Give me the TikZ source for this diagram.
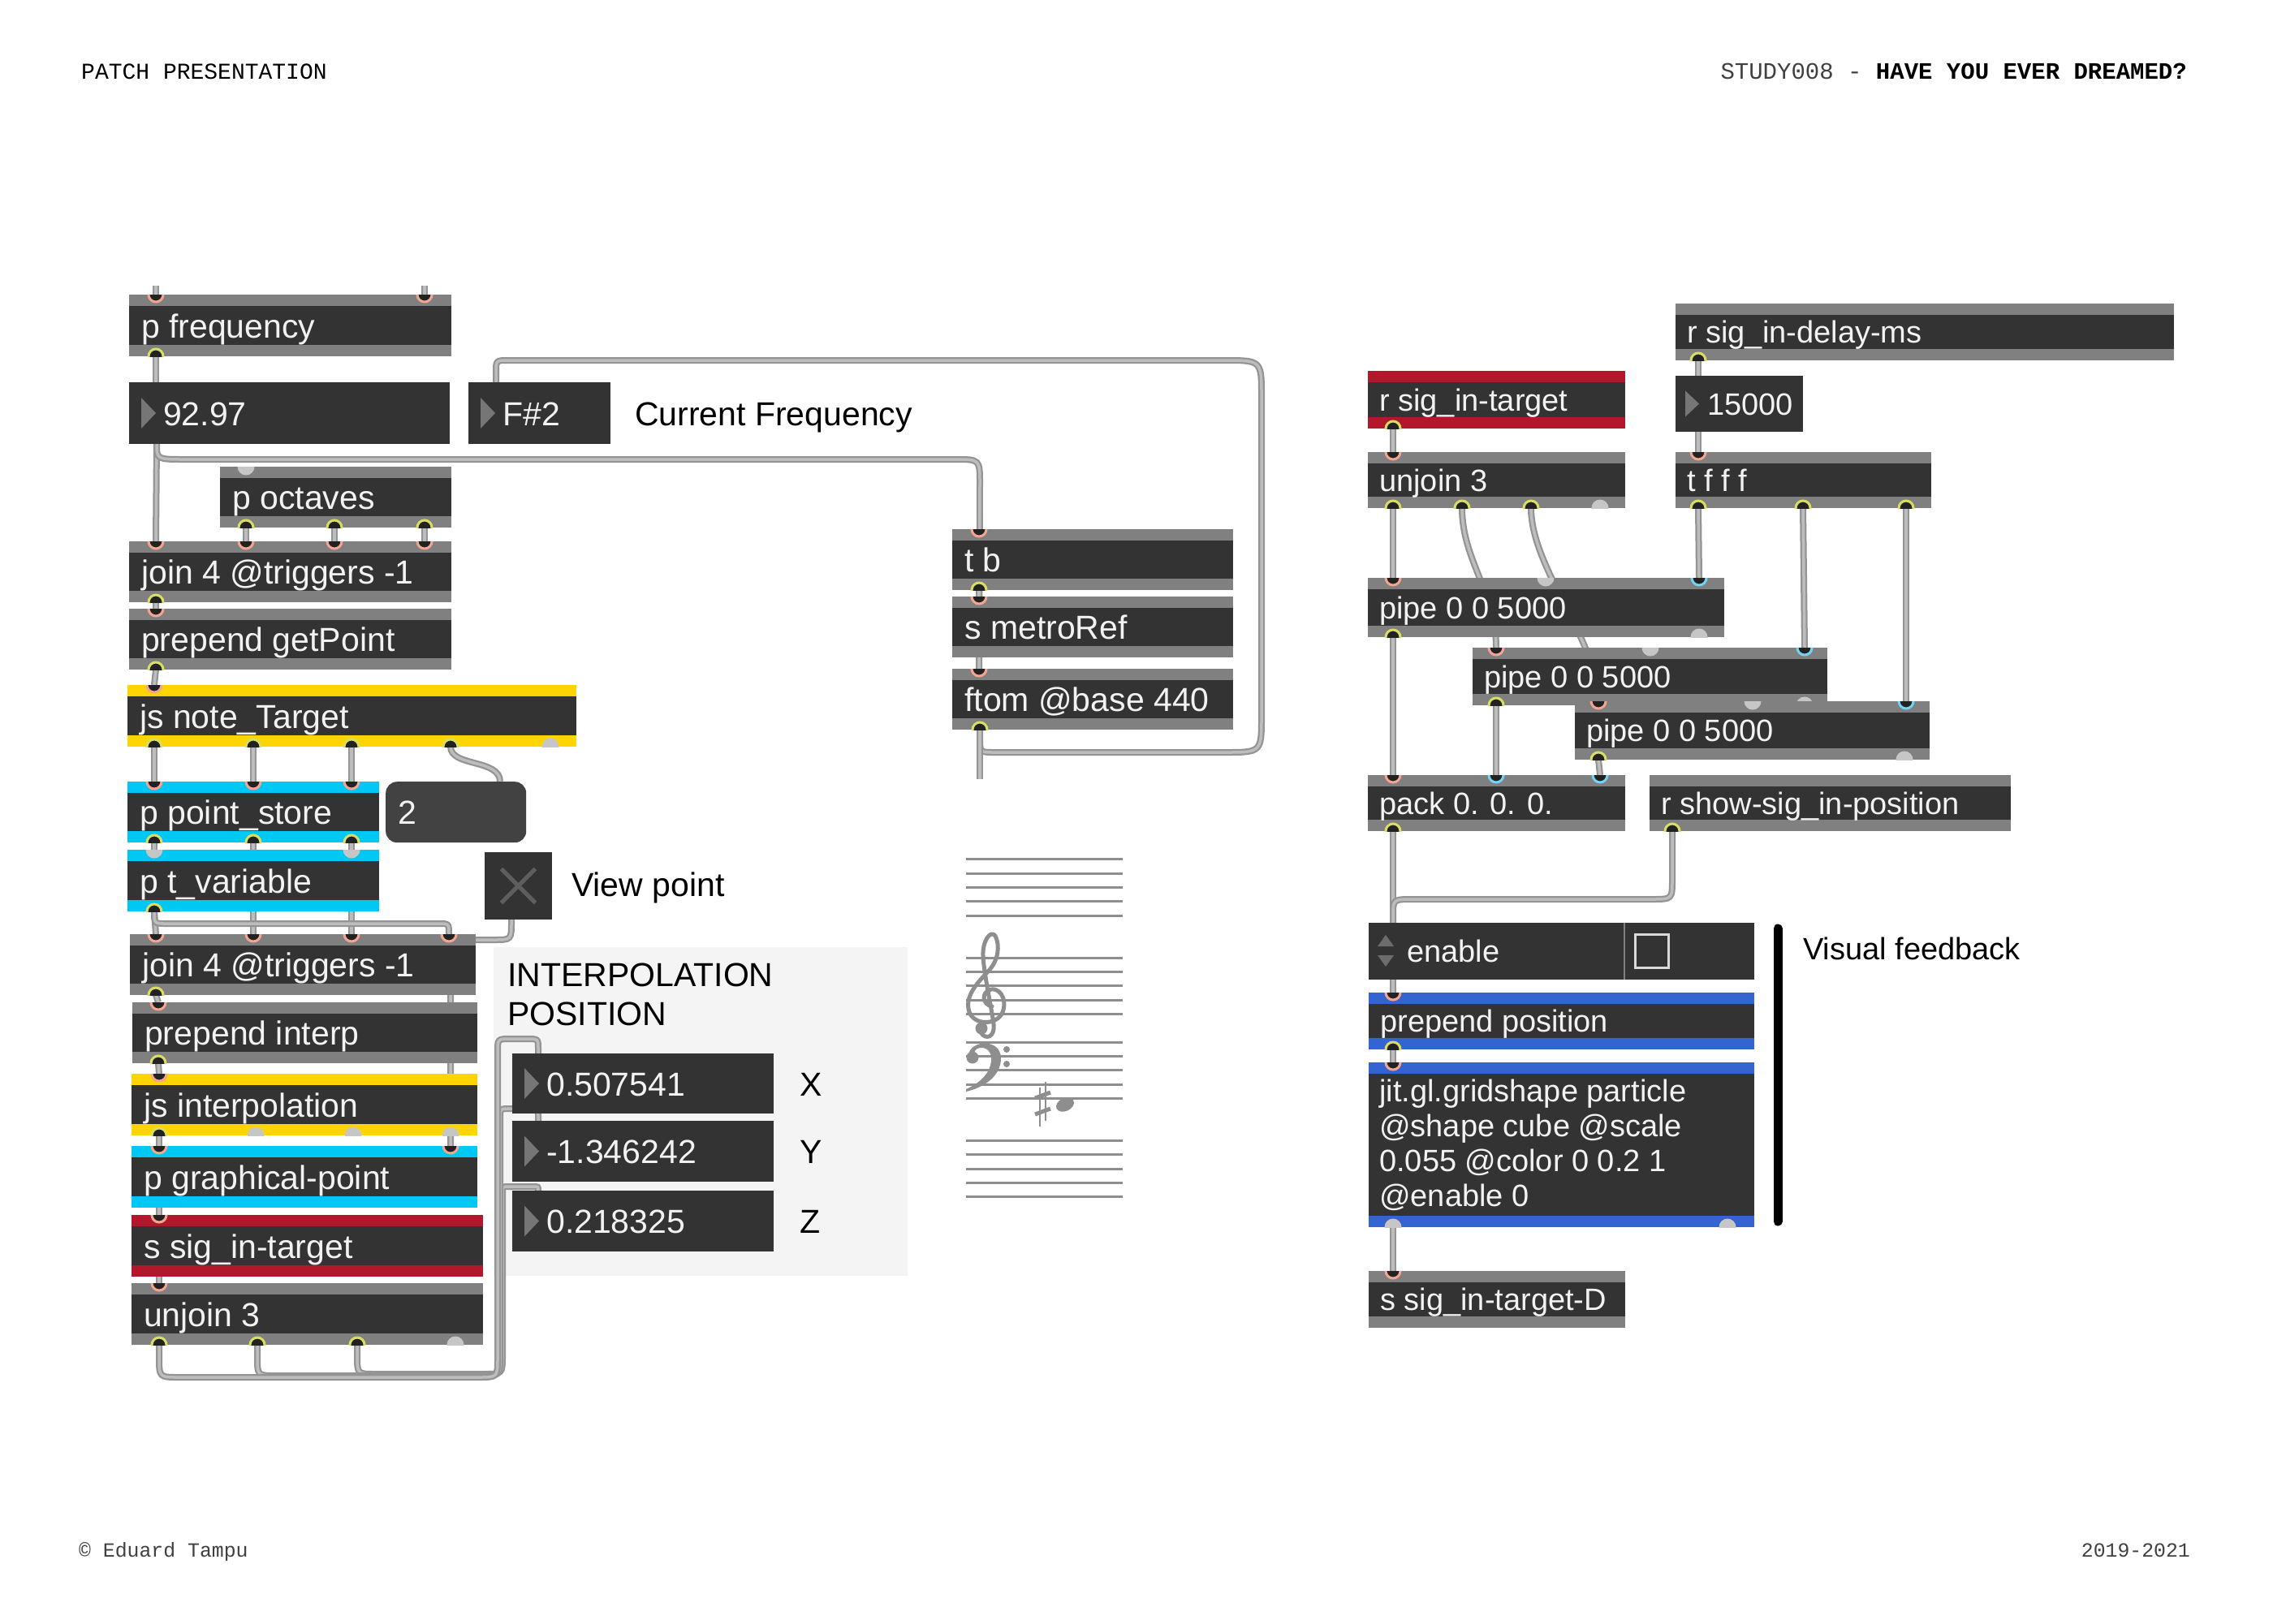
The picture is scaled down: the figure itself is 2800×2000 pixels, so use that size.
\documentclass[tikz,border=0pt]{standalone}
\usepackage{fontspec}
\setmainfont{Liberation Sans}
\newfontfamily\monofont{Liberation Mono}
\usetikzlibrary{calc}
\definecolor{objbody}{HTML}{333333}
\definecolor{barg}{HTML}{808080}
\definecolor{jsyel}{HTML}{FFD400}
\definecolor{cyanb}{HTML}{00C8F5}
\definecolor{redb}{HTML}{B2172B}
\definecolor{blueb}{HTML}{3464D0}
\definecolor{objtext}{HTML}{F2F2F2}
\definecolor{tri}{HTML}{767676}
\definecolor{portfill}{HTML}{222222}
\definecolor{portgrey}{HTML}{C6C6C6}
\definecolor{salmon}{HTML}{F3A591}
\definecolor{yelg}{HTML}{D9DE63}
\definecolor{cyanr}{HTML}{74D2F2}
\definecolor{cabo}{HTML}{949494}
\definecolor{cabi}{HTML}{BDBDBD}
\definecolor{panelc}{HTML}{F4F4F4}
\definecolor{staffc}{HTML}{8E8E8E}
\definecolor{msgbox}{HTML}{424242}
\definecolor{xcol}{HTML}{5E5E5E}
\definecolor{arrc}{HTML}{6C6C6C}

\pgfdeclarelayer{back}
\pgfdeclarelayer{wires}
\pgfsetlayers{back,wires,main}

\tikzset{
  objbox/.style={fill=objbody, inner sep=0pt, outer sep=0pt, draw=none},
  barcol/.style={path picture={
      \fill[#1] (path picture bounding box.north west) rectangle ([yshift=-14pt]path picture bounding box.north east);
      \fill[#1] (path picture bounding box.south west) rectangle ([yshift=14pt]path picture bounding box.south east);}},
  bigtxt/.style={text=objtext, inner sep=0pt, font=\fontsize{41}{48}\selectfont},
  smalltxt/.style={text=objtext, inner sep=0pt, font=\fontsize{38}{44}\selectfont},
  labeltxt/.style={text=black, inner sep=0pt, anchor=base west, font=\fontsize{41}{48}\selectfont},
  slabeltxt/.style={text=black, inner sep=0pt, anchor=base west, font=\fontsize{38}{44}\selectfont},
  cable/.style={draw=cabo, line width=8pt, postaction={draw=cabi, line width=3.5pt}},
  stafflines/.style={draw=staffc, line width=3pt},
}

% object box, left-size text
\newcommand\mobj[7]{%
  \node[objbox, barcol=#6, anchor=north west, minimum width=#4pt-#2pt, minimum height=#5pt-#3pt] (#1) at (#2,#3) {};
  \node[bigtxt, anchor=base west] (#1-t) at ($(#1.west)+(15,15)$) {#7};}
% object box, right-size text
\newcommand\robj[7]{%
  \node[objbox, barcol=#6, anchor=north west, minimum width=#4pt-#2pt, minimum height=#5pt-#3pt] (#1) at (#2,#3) {};
  \node[smalltxt, anchor=base west] (#1-t) at ($(#1.west)+(14,13.5)$) {#7};}
% number box
\newcommand\nbox[6]{%
  \node[objbox, anchor=north west, minimum width=#4pt-#2pt, minimum height=#5pt-#3pt] (#1) at (#2,#3) {};
  \fill[tri] ($(#1.west)+(15,-19)$) -- ($(#1.west)+(15,19)$) -- ($(#1.west)+(33,0)$) -- cycle;
  \node[bigtxt, anchor=base west] (#1-t) at ($(#1.west)+(42,15)$) {#6};}
% ports
\newcommand\pin[4][salmon]{%
  \coordinate (#2) at (#3,#4);
  \begin{scope}\clip (#3-12,#4) rectangle (#3+12,#4+12);
  \fill[portfill] (#2) circle (9pt); \draw[#1, line width=3pt] (#2) circle (9pt);\end{scope}}
\newcommand\pout[4][yelg]{%
  \coordinate (#2) at (#3,#4);
  \begin{scope}\clip (#3-12,#4-12) rectangle (#3+12,#4);
  \fill[portfill] (#2) circle (9pt); \draw[#1, line width=3pt] (#2) circle (9pt);\end{scope}}
\newcommand\gin[3]{%
  \coordinate (#1) at (#2,#3);
  \begin{scope}\clip (#2-12,#3) rectangle (#2+12,#3+12);
  \fill[portgrey] (#1) circle (10.5pt);\end{scope}}
\newcommand\gout[3]{%
  \coordinate (#1) at (#2,#3);
  \begin{scope}\clip (#2-12,#3-12) rectangle (#2+12,#3);
  \fill[portgrey] (#1) circle (10.5pt);\end{scope}}

\begin{document}
\begin{tikzpicture}[x=1pt,y=-1pt]
\useasboundingbox (0,0) rectangle (2800,2000);
\begin{pgfonlayer}{back}
\fill[white] (0,0) rectangle (2800,2000);
\fill[panelc] (608,1167) rectangle (1118,1572);
\end{pgfonlayer}

% ---------- header / footer ----------
\node[anchor=base west, inner sep=0pt, font=\monofont\fontsize{28}{32}\selectfont] (hdrL) at (100,97) {PATCH PRESENTATION};
\node[anchor=base east, inner sep=0pt, font=\monofont\fontsize{29}{32}\selectfont] (hdrR) at (2694,97) {\textcolor{black!75}{STUDY008 -} \textbf{HAVE YOU EVER DREAMED?}};
\node[anchor=base west, inner sep=0pt, text=black!75, font=\monofont\fontsize{24.8}{30}\selectfont] (ftrL) at (97,1918) {© Eduard Tampu};
\node[anchor=base east, inner sep=0pt, text=black!75, font=\monofont\fontsize{24.8}{30}\selectfont] (ftrR) at (2698,1918) {2019-2021};

% ---------- interpolation panel ----------
\node[labeltxt] (ipl1) at (625,1215) {INTERPOLATION};
\node[labeltxt] (ipl2) at (625,1263) {POSITION};

% ---------- left column ----------
\mobj{pfreq}{159}{363}{556}{439}{barg}{p frequency}
\pin{pf-i1}{192}{363}\pin{pf-i2}{523}{363}\pout{pf-o1}{192}{439}
\coordinate (stub1) at (192,352); \coordinate (stub2) at (523,352);

\nbox{nfreq}{159}{471}{554}{547}{92.97}
\coordinate (nf-i) at (192,471); \coordinate (nf-o) at (193,547);
\nbox{nnote}{577}{471}{752}{547}{F\#2}
\coordinate (nn-i) at (611,471);
\node[labeltxt] (curfreq) at (782,524) {Current Frequency};

\mobj{poct}{271}{575}{556}{650}{barg}{p octaves}
\gin{po-i}{303}{575}\pout{po-o1}{303}{650}\pout{po-o2}{412}{650}\pout{po-o3}{523}{650}

\mobj{join1}{159}{667}{556}{742}{barg}{join 4 @triggers -1}
\pin{j1-i1}{192}{667}\pin{j1-i2}{303}{667}\pin{j1-i3}{412}{667}\pin{j1-i4}{523}{667}\pout{j1-o}{192}{742}

\mobj{pget}{159}{750}{556}{825}{barg}{prepend getPoint}
\pin{pg-i}{192}{750}\pout{pg-o}{192}{825}

\mobj{jsnote}{157}{844}{710}{920}{jsyel}{js note\_Target}
\pin{jn-i}{190}{844}\pout{jn-o1}{190}{920}\pout{jn-o2}{312}{920}\pout{jn-o3}{433}{920}\pout{jn-o4}{555}{920}\gout{jn-o5}{678}{920}

\mobj{pstore}{157}{963}{467}{1038}{cyanb}{p point\_store}
\pin{ps-i1}{190}{963}\pin{ps-i2}{312}{963}\pin{ps-i3}{433}{963}
\pout{ps-o1}{190}{1038}\pout{ps-o2}{312}{1038}\pout{ps-o3}{433}{1038}

\node[fill=msgbox, rounded corners=14pt, inner sep=0pt, minimum width=173pt, minimum height=75pt, anchor=north west] (msg2) at (475,963) {};
\node[bigtxt, anchor=base west] (msg2-t) at (490,1015) {2};
\coordinate (m2-i) at (616,963);

\mobj{ptvar}{157}{1047}{467}{1123}{cyanb}{p t\_variable}
\gin{pt-i1}{190}{1047}\gin{pt-i3}{433}{1047}\pout{pt-o}{190}{1123}

\node[objbox, minimum width=83pt, minimum height=83pt, anchor=north west] (tgl) at (597,1050) {};
\draw[xcol, line width=5pt] ($(tgl.center)+(-21,-21)$) -- ($(tgl.center)+(21,21)$);
\draw[xcol, line width=5pt] ($(tgl.center)+(-21,21)$) -- ($(tgl.center)+(21,-21)$);
\coordinate (tg-o) at (630,1133);
\node[labeltxt] (viewpt) at (704,1104) {View point};

\mobj{join2}{160}{1151}{586}{1226}{barg}{join 4 @triggers -1}
\pin{j2-i1}{192}{1151}\pin{j2-i2}{312}{1151}\pin{j2-i3}{433}{1151}\pin{j2-i4}{553}{1151}\pout{j2-o}{192}{1226}

\mobj{pinterp}{163}{1235}{588}{1310}{barg}{prepend interp}
\pin{pi-i}{195}{1235}\pout{pi-o}{195}{1310}

\mobj{jsinterp}{162}{1323}{588}{1399}{jsyel}{js interpolation}
\pin{ji-i}{196}{1323}\pout{ji-o1}{196}{1399}\gout{ji-o2}{315}{1399}\gout{ji-o3}{435}{1399}\gout{ji-o4}{555}{1399}

\mobj{pgraph}{162}{1412}{588}{1488}{cyanb}{p graphical-point}
\pin{gp-i1}{196}{1412}\pin{gp-i2}{555}{1412}
\coordinate (gp-o) at (196,1488);

\mobj{ssig}{162}{1497}{595}{1573}{redb}{s sig\_in-target}
\pin{ss-i}{196}{1497}

\mobj{unj1}{162}{1581}{595}{1657}{barg}{unjoin 3}
\pin{u1-i}{196}{1581}\pout{u1-o1}{196}{1657}\pout{u1-o2}{317}{1657}\pout{u1-o3}{440}{1657}\gout{u1-o4}{561}{1657}

\nbox{nx}{631}{1298}{953}{1372}{0.507541}
\nbox{ny}{631}{1381}{953}{1456}{-1.346242}
\nbox{nz}{631}{1467}{953}{1542}{0.218325}
\coordinate (nx-i) at (663,1298); \coordinate (ny-i) at (663,1381); \coordinate (nz-i) at (663,1467);
\node[labeltxt] (lx) at (985,1350) {X};
\node[labeltxt] (ly) at (985,1433) {Y};
\node[labeltxt] (lz) at (985,1519) {Z};

% ---------- middle column ----------
\mobj{tb}{1173}{652}{1519}{727}{barg}{t b}
\pin{tb-i}{1206}{652}\pout{tb-o}{1206}{727}
\mobj{smetro}{1173}{735}{1519}{810}{barg}{s metroRef}
\pin{sm-i}{1206}{735}
\mobj{ftom}{1173}{824}{1519}{899}{barg}{ftom @base 440}
\pin{ft-i}{1206}{824}\pout{ft-o}{1207}{899}
\coordinate (stubft) at (1207,960);

% staff
\foreach \yy in {1058,1076,1093,1110,1128,1180,1197,1214,1232,1249,1284,1301,1318,1336,1353,1405,1422,1440,1457,1474}
  \draw[stafflines] (1190,\yy) -- (1383,\yy);
% treble clef
\draw[staffc, line width=5pt, line cap=round, line join=round]
  (1222,1240) .. controls (1210,1238) and (1208,1222) .. (1221,1219)
  .. controls (1236,1217) and (1242,1240) .. (1232,1252)
  .. controls (1222,1264) and (1196,1262) .. (1193,1243)
  .. controls (1190,1225) and (1205,1210) .. (1218,1196)
  .. controls (1230,1183) and (1232,1165) .. (1226,1153)
  .. controls (1220,1145) and (1210,1160) .. (1211,1178)
  .. controls (1212,1200) and (1222,1245) .. (1224,1262)
  .. controls (1226,1278) and (1214,1282) .. (1208,1272);
\fill[staffc] (1209,1267) circle (7.5pt);
% bass clef
\fill[staffc] (1193,1300) .. controls (1195,1281) and (1233,1279) .. (1233,1304)
  .. controls (1233,1326) and (1212,1340) .. (1190,1345) -- (1190,1342)
  .. controls (1206,1335) and (1222,1322) .. (1221,1303)
  .. controls (1220,1288) and (1202,1288) .. (1200,1297) -- cycle;
\fill[staffc] (1198,1303) circle (7.5pt);
\fill[staffc] (1240,1293) circle (4pt);
\fill[staffc] (1240,1311) circle (4pt);
% sharp and note
\draw[staffc, line width=2.5pt] (1281,1340) -- (1281,1388);
\draw[staffc, line width=2.5pt] (1288,1333) -- (1288,1381);
\draw[staffc, line width=5pt] (1275,1353) -- (1294,1346);
\draw[staffc, line width=5pt] (1275,1373) -- (1294,1366);
\fill[staffc, rotate around={25:(1312,1361)}] (1312,1361) ellipse (11.5pt and 8pt);

% ---------- right column ----------
\robj{rdelay}{2064}{374}{2678}{444}{barg}{r sig\_in-delay-ms}
\pout{rd-o}{2092}{444}
\robj{rtarget}{1685}{457}{2002}{528}{redb}{r sig\_in-target}
\pout{rt-o}{1716}{528}
\node[objbox, anchor=north west, minimum width=157pt, minimum height=69pt] (ndelay) at (2064,463) {};
\fill[tri] ($(ndelay.west)+(12,-16)$) -- ($(ndelay.west)+(12,16)$) -- ($(ndelay.west)+(29,0)$) -- cycle;
\node[smalltxt, anchor=base west] (ndelay-t) at ($(ndelay.west)+(39,13.5)$) {15000};
\coordinate (nd-i) at (2092,463); \coordinate (nd-o) at (2092,532);

\robj{unj2}{1685}{557}{2002}{626}{barg}{unjoin 3}
\pin{u2-i}{1716}{557}\pout{u2-o1}{1716}{626}\pout{u2-o2}{1801}{626}\pout{u2-o3}{1886}{626}\gout{u2-o4}{1971}{626}
\robj{tfff}{2064}{557}{2379}{626}{barg}{t f f f}
\pin{tf-i}{2092}{557}\pout{tf-o1}{2092}{626}\pout{tf-o2}{2221}{626}\pout{tf-o3}{2348}{626}

\robj{pipeA}{1685}{712}{2124}{785}{barg}{pipe 0 0 5000}
\pin{pa-i1}{1716}{712}\gin{pa-i2}{1904}{712}\pin[cyanr]{pa-i3}{2093}{712}\pout{pa-o1}{1716}{785}\gout{pa-o2}{2093}{785}
\robj{pipeB}{1814}{798}{2251}{869}{barg}{pipe 0 0 5000}
\pin{pb-i1}{1843}{798}\gin{pb-i2}{2033}{798}\pin[cyanr]{pb-i3}{2223}{798}\pout{pb-o1}{1843}{869}\gout{pb-o2}{2223}{869}
\robj{pipeC}{1940}{864}{2377}{936}{barg}{pipe 0 0 5000}
\pin{pc-i1}{1969}{864}\gin{pc-i2}{2159}{864}\pin[cyanr]{pc-i3}{2348}{864}\pout{pc-o1}{1969}{936}\gout{pc-o2}{2346}{936}

\robj{pack}{1685}{955}{2002}{1024}{barg}{pack 0. 0. 0.}
\pin{pk-i1}{1716}{955}\pin[cyanr]{pk-i2}{1843}{955}\pin[cyanr]{pk-i3}{1971}{955}\pout{pk-o}{1716}{1024}
\robj{rshow}{2032}{955}{2477}{1024}{barg}{r show-sig\_in-position}
\pout{rs-o}{2060}{1024}

% enable menu + toggle
\node[objbox, anchor=north west, minimum width=315pt, minimum height=70pt] (umenu) at (1686,1137) {};
\node[objbox, anchor=north west, minimum width=160pt, minimum height=70pt] (etgl) at (2001,1137) {};
\draw[barg, line width=2pt] (umenu.north east) -- (umenu.south east);
\fill[arrc] (1697,1166) -- (1717,1166) -- (1707,1152) -- cycle;
\fill[arrc] (1697,1177) -- (1717,1177) -- (1707,1191) -- cycle;
\node[smalltxt, anchor=base west] (umenu-t) at (1733,1185) {enable};
\draw[white!85!black, line width=3pt] (2014,1151) rectangle (2055,1192);
\coordinate (um-i) at (1716,1137); \coordinate (um-o) at (1716,1207);

\draw[black, line width=11pt, line cap=round] (2190,1144) -- (2190,1505);
\node[slabeltxt] (visfb) at (2221,1182) {Visual feedback};

\robj{ppos}{1686}{1223}{2161}{1293}{blueb}{prepend position}
\pin{pp-i}{1716}{1223}\pout{pp-o}{1716}{1293}

\node[objbox, barcol=blueb, anchor=north west, minimum width=475pt, minimum height=203pt] (jit) at (1686,1309) {};
\node[smalltxt, anchor=base west] (jit-t1) at (1699,1357) {jit.gl.gridshape particle};
\node[smalltxt, anchor=base west] (jit-t2) at (1699,1400) {@shape cube @scale};
\node[smalltxt, anchor=base west] (jit-t3) at (1699,1443) {0.055 @color 0 0.2 1};
\node[smalltxt, anchor=base west] (jit-t4) at (1699,1486) {@enable 0};
\pin{jt-i}{1716}{1309}\gout{jt-o1}{1716}{1512}\gout{jt-o2}{2128}{1512}

\robj{sD}{1686}{1566}{2002}{1636}{barg}{s sig\_in-target-D}
\pin{sd-i}{1716}{1566}

% ---------- cables ----------
\begin{pgfonlayer}{wires}
\draw[cable] (stub1) -- (pf-i1);
\draw[cable] (stub2) -- (pf-i2);
\draw[cable] (pf-o1) -- (nf-i);
\draw[cable] (nf-o) -- (j1-i1);
\draw[cable] (nf-o) .. controls (193,566) .. (228,566) -- (1177,566) .. controls (1207,566) .. (1207,596) -- (ft-i);
\draw[cable] (ft-o) -- (1207,909) .. controls (1207,927) .. (1225,927) -- (1509,927)
   .. controls (1554,927) .. (1554,882) -- (1554,489) .. controls (1554,444) .. (1509,444)
   -- (626,444) .. controls (611,444) .. (611,459) -- (nn-i);
\draw[cable] (ft-o) -- (stubft);
\draw[cable] (tb-o) -- (sm-i);
\draw[cable] (po-o1) -- (j1-i2);
\draw[cable] (po-o2) -- (j1-i3);
\draw[cable] (po-o3) -- (j1-i4);
\draw[cable] (j1-o) -- (pg-i);
\draw[cable] (pg-o) -- (jn-i);
\draw[cable] (jn-o1) -- (ps-i1);
\draw[cable] (jn-o2) -- (ps-i2);
\draw[cable] (jn-o3) -- (ps-i3);
\draw[cable] (jn-o4) .. controls (555,945) and (616,935) .. (m2-i);
\draw[cable] (ps-o1) -- (pt-i1);
\draw[cable] (ps-o2) -- (j2-i2);
\draw[cable] (ps-o3) -- (j2-i3);
\draw[cable] (pt-o) -- (j2-i1);
\draw[cable] (pt-o) .. controls (190,1138) .. (205,1138) -- (540,1138) .. controls (553,1138) .. (j2-i4);
\draw[cable] (tg-o) -- (630,1136) .. controls (630,1158) .. (608,1158) -- (570,1158) .. controls (555,1158) .. (555,1173) -- (gp-i2);
\draw[cable] (j2-o) -- (pi-i);
\draw[cable] (pi-o) -- (ji-i);
\draw[cable] (ji-o1) -- (gp-i1);
\draw[cable] (gp-o) -- (u1-i);
\draw[cable] (u1-o3) -- (440,1670) .. controls (440,1693) .. (463,1693) -- (596,1693) .. controls (619,1693) .. (619,1670)
   -- (619,1470) .. controls (619,1462) .. (627,1462) -- (657,1462) .. controls (663,1462) .. (nz-i);
\draw[cable] (u1-o2) -- (317,1672) .. controls (317,1695) .. (340,1695) -- (593,1695) .. controls (616,1695) .. (616,1672)
   -- (616,1378) .. controls (616,1366) .. (628,1366) -- (653,1366) .. controls (663,1366) .. (663,1376) -- (ny-i);
\draw[cable] (u1-o1) -- (196,1672) .. controls (196,1697) .. (221,1697) -- (589,1697) .. controls (613,1697) .. (613,1673)
   -- (613,1296) .. controls (613,1280) .. (629,1280) -- (648,1280) .. controls (663,1280) .. (663,1292) -- (nx-i);
% right
\draw[cable] (rt-o) -- (u2-i);
\draw[cable] (u2-o1) -- (pa-i1);
\draw[cable] (u2-o2) .. controls (1801,690) and (1843,730) .. (pb-i1);
\draw[cable] (u2-o3) .. controls (1886,700) and (1969,790) .. (pc-i1);
\draw[cable] (rd-o) -- (nd-i);
\draw[cable] (nd-o) -- (tf-i);
\draw[cable] (tf-o1) -- (pa-i3);
\draw[cable] (tf-o2) -- (pb-i3);
\draw[cable] (tf-o3) -- (pc-i3);
\draw[cable] (pa-o1) -- (pk-i1);
\draw[cable] (pb-o1) -- (pk-i2);
\draw[cable] (pc-o1) -- (pk-i3);
\draw[cable] (pk-o) -- (um-i);
\draw[cable] (rs-o) -- (2060,1083) .. controls (2060,1108) .. (2035,1108) -- (1741,1108) .. controls (1716,1108) .. (1716,1128) -- (um-i);
\draw[cable] (um-o) -- (pp-i);
\draw[cable] (pp-o) -- (jt-i);
\draw[cable] (jt-o1) -- (sd-i);
\end{pgfonlayer}
\end{tikzpicture}
\end{document}
